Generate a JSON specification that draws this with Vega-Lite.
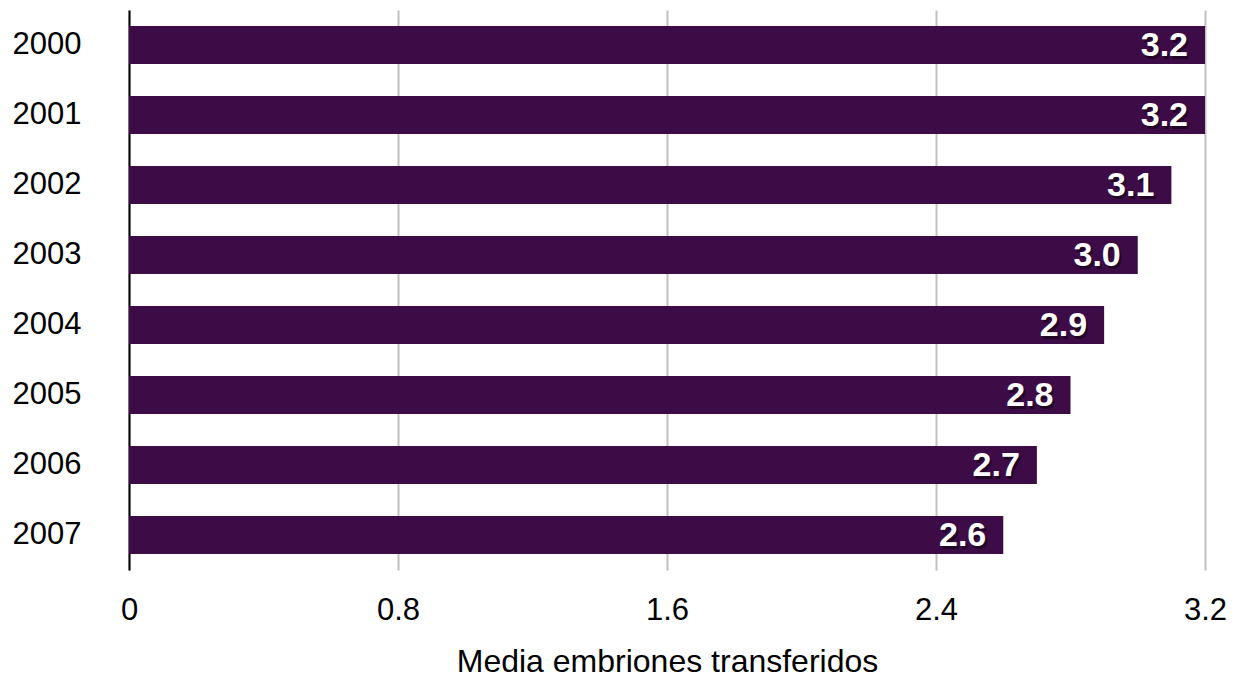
{
  "$schema": "https://vega.github.io/schema/vega-lite/v6.json",
  "width": 1076,
  "height": 560,
  "autosize": {"type": "none"},
  "padding": {"left": 129, "top": 10, "right": 34, "bottom": 113},
  "background": "white",
  "config": {
    "view": {"stroke": null},
    "font": "Liberation Sans"
  },
  "data": {
    "values": [
      {"year": "2000", "media": 3.2},
      {"year": "2001", "media": 3.2},
      {"year": "2002", "media": 3.1},
      {"year": "2003", "media": 3.0},
      {"year": "2004", "media": 2.9},
      {"year": "2005", "media": 2.8},
      {"year": "2006", "media": 2.7},
      {"year": "2007", "media": 2.6}
    ]
  },
  "encoding": {
    "y": {
      "field": "year",
      "type": "nominal",
      "sort": null,
      "scale": {"paddingInner": 0.457, "paddingOuter": 0.2285},
      "axis": {
        "title": null,
        "ticks": false,
        "domainColor": "#000000",
        "domainWidth": 2,
        "labelAlign": "left",
        "labelPadding": 117,
        "labelFontSize": 31,
        "labelColor": "#000000",
        "labelFont": "Liberation Sans"
      }
    },
    "x": {
      "field": "media",
      "type": "quantitative",
      "scale": {"domain": [0, 3.2], "nice": false},
      "axis": {
        "values": [0, 0.8, 1.6, 2.4, 3.2],
        "labelExpr": "datum.value == 0 ? '0' : format(datum.value, '.1f')",
        "labelFlush": false,
        "labelOverlap": false,
        "domain": false,
        "ticks": false,
        "grid": true,
        "gridColor": "#c0c0c0",
        "gridWidth": 2,
        "labelFontSize": 31,
        "labelColor": "#000000",
        "labelPadding": 25,
        "labelFont": "Liberation Sans",
        "title": "Media embriones transferidos",
        "titleFontSize": 32,
        "titleFontWeight": "normal",
        "titleColor": "#000000",
        "titlePadding": 21,
        "titleFont": "Liberation Sans"
      }
    }
  },
  "layer": [
    {"mark": {"type": "bar", "color": "#3d0c47"}},
    {
      "mark": {"type": "text", "align": "right", "baseline": "middle", "dx": -15, "dy": 4, "fontSize": 34, "fontWeight": "bold", "color": "#000000", "opacity": 0.45},
      "encoding": {"text": {"field": "media", "type": "quantitative", "format": ".1f"}}
    },
    {
      "mark": {"type": "text", "align": "right", "baseline": "middle", "dx": -17, "dy": 1, "fontSize": 34, "fontWeight": "bold", "color": "#ffffff"},
      "encoding": {"text": {"field": "media", "type": "quantitative", "format": ".1f"}}
    }
  ]
}
